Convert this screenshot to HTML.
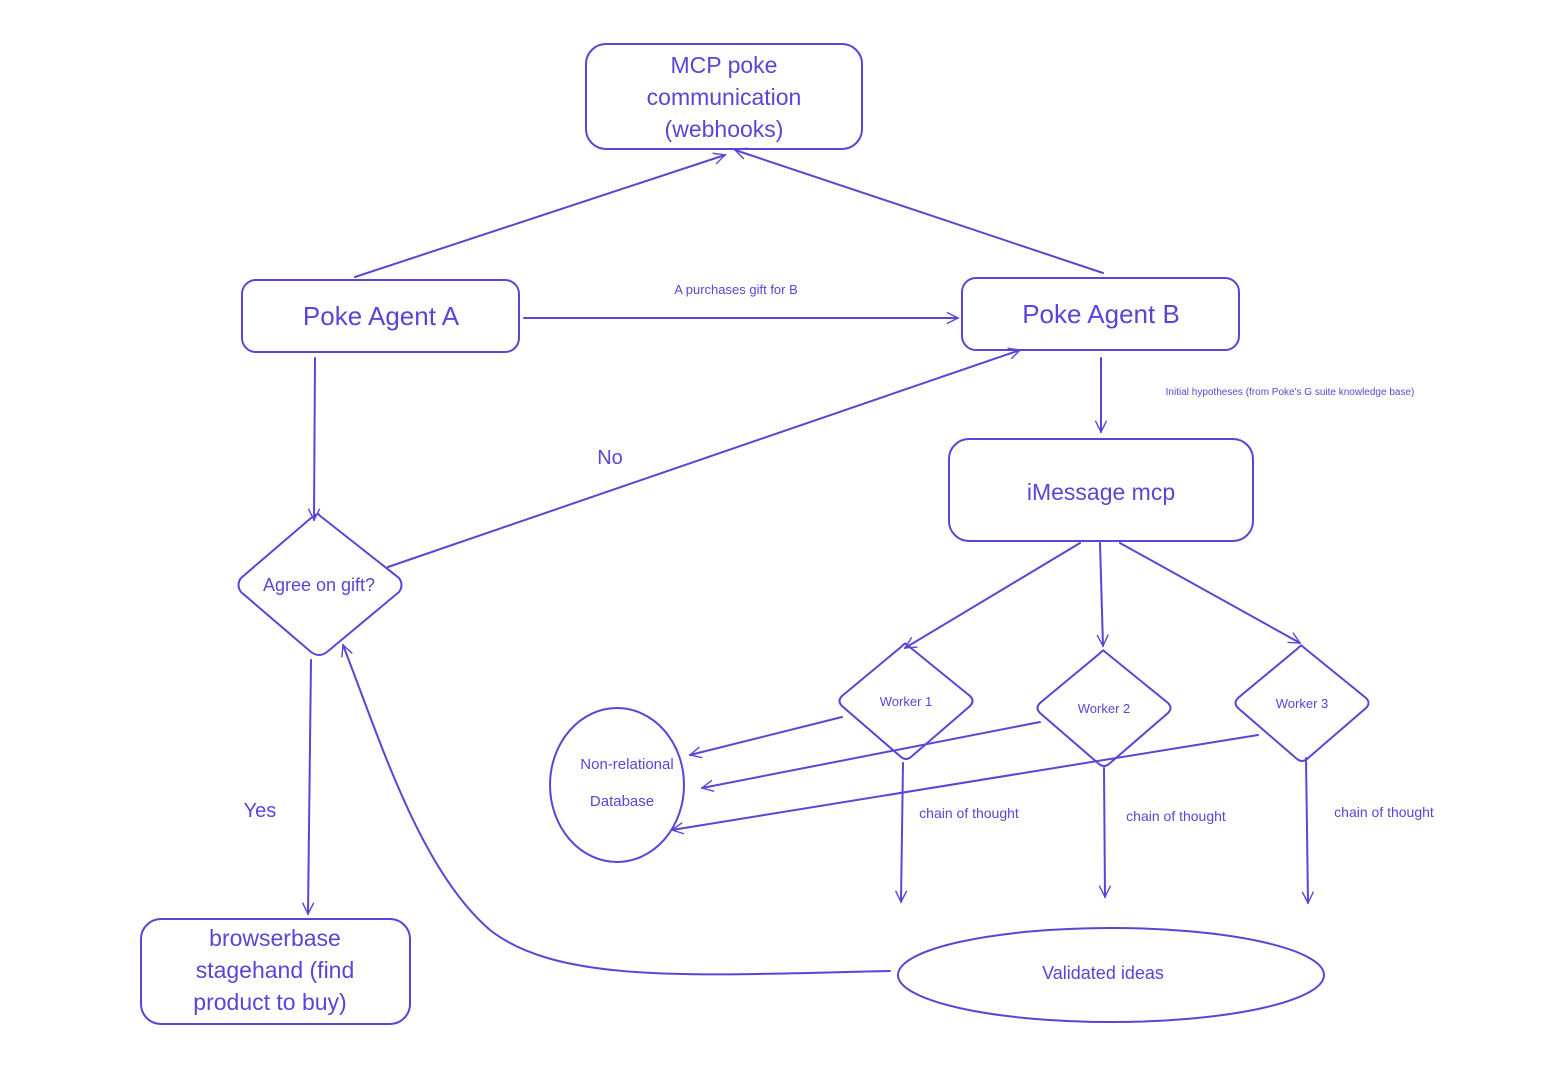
<!DOCTYPE html>
<html><head><style>body{margin:0;background:#fff}svg{display:block}</style></head><body>
<svg width="1546" height="1084" viewBox="0 0 1546 1084" xmlns="http://www.w3.org/2000/svg">
<defs><marker id="a" viewBox="0 0 20 20" refX="18" refY="10" markerWidth="14" markerHeight="14" orient="auto" markerUnits="userSpaceOnUse"><path d="M2 2 L18 10 L2 18" fill="none" stroke="#5b45d6" stroke-width="2"/></marker></defs>
<g fill="none" stroke="#5b45d6" stroke-width="2" stroke-linecap="round">
<rect x="586" y="44" width="276" height="105" rx="20"/>
<rect x="242" y="280" width="277" height="72" rx="14"/>
<rect x="962" y="278" width="277" height="72" rx="14"/>
<rect x="949" y="439" width="304" height="102" rx="20"/>
<rect x="141" y="919" width="269" height="105" rx="20"/>
<path d="M319 515 L399 578 Q404 585 399 592 L327 652 Q319 658 311 652 L241 592 Q236 585 241 578 L311 518 Q319 512 319 515Z"/>
<path d="M906 644 L970 696 Q975 701 970 706 L911 757 Q906 761 901 757 L842 706 Q837 701 842 696 L901 647 Q906 642 906 644Z"/>
<path d="M1104 651 L1168 703 Q1173 708 1168 713 L1109 764 Q1104 768 1099 764 L1040 713 Q1035 708 1040 703 L1099 654 Q1104 649 1104 651Z"/>
<path d="M1302 646 L1366 698 Q1371 703 1366 708 L1307 759 Q1302 763 1297 759 L1238 708 Q1233 703 1238 698 L1297 649 Q1302 644 1302 646Z"/>
<ellipse cx="617" cy="785" rx="67" ry="77"/>
<ellipse cx="1111" cy="975" rx="213" ry="47"/>
<g marker-end="url(#a)">
<path d="M355 277 L725 155"/>
<path d="M1103 273 L735 150"/>
<path d="M524 318 L958 318"/>
<path d="M1101 358 L1101 432"/>
<path d="M315 358 L314 520"/>
<path d="M388 567 L1020 350"/>
<path d="M311 660 L308 914"/>
<path d="M890 971 C700 975 560 985 490 930 C420 870 380 740 343 645"/>
<path d="M1080 543 L905 648"/>
<path d="M1100 543 L1103 646"/>
<path d="M1120 543 L1300 643"/>
<path d="M842 717 L690 755"/>
<path d="M1040 722 L702 788"/>
<path d="M1258 735 L672 830"/>
<path d="M903 763 L901 902"/>
<path d="M1104 768 L1105 897"/>
<path d="M1306 758 L1308 903"/>
</g></g>
<g fill="#5b45d6" font-family="Liberation Sans, sans-serif" text-anchor="middle">
<text x="724" y="73" font-size="23">MCP poke</text>
<text x="724" y="105" font-size="23">communication</text>
<text x="724" y="137" font-size="23">(webhooks)</text>
<text x="381" y="325" font-size="26">Poke Agent A</text>
<text x="1101" y="323" font-size="26">Poke Agent B</text>
<text x="1101" y="500" font-size="23">iMessage mcp</text>
<text x="319" y="591" font-size="18">Agree on gift?</text>
<text x="275" y="946" font-size="23">browserbase</text>
<text x="275" y="978" font-size="23">stagehand (find</text>
<text x="270" y="1010" font-size="23">product to buy)</text>
<text x="906" y="706" font-size="13">Worker 1</text>
<text x="1104" y="713" font-size="13">Worker 2</text>
<text x="1302" y="708" font-size="13">Worker 3</text>
<text x="627" y="769" font-size="15">Non-relational</text>
<text x="622" y="806" font-size="15">Database</text>
<text x="1103" y="979" font-size="18">Validated ideas</text>
<text x="736" y="294" font-size="13">A purchases gift for B</text>
<text x="610" y="464" font-size="20">No</text>
<text x="260" y="817" font-size="20">Yes</text>
<text x="969" y="818" font-size="14">chain of thought</text>
<text x="1176" y="821" font-size="14">chain of thought</text>
<text x="1384" y="817" font-size="14">chain of thought</text>
<text x="1290" y="395" font-size="10">Initial hypotheses (from Poke's G suite knowledge base)</text>
</g>
</svg>
</body></html>
